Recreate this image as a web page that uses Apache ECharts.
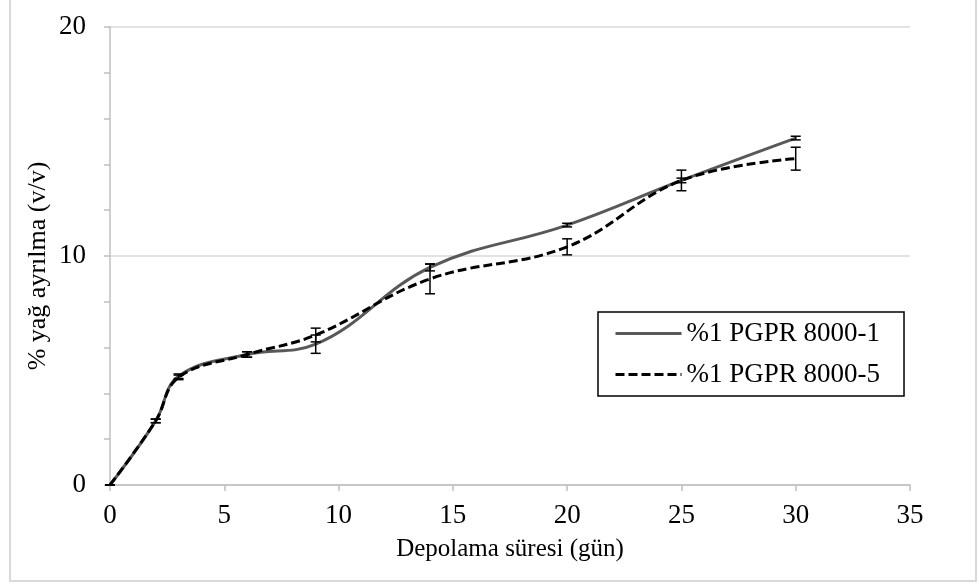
<!DOCTYPE html>
<html>
<head>
<meta charset="utf-8">
<script src="https://cdn.jsdelivr.net/npm/echarts@6/dist/echarts.min.js"></script>
<style>
  html, body { margin: 0; padding: 0; background: #fff; }
  #chart { width: 979px; height: 584px; }
</style>
</head>
<body>
<div id="chart"></div>
<script>
// Depolama süresi (gün)
const gunler = [0, 2, 3, 6, 9, 14, 20, 25, 30];
// %1 PGPR 8000-1
const seri1 = [0, 2.8, 4.75, 5.7, 6.15, 9.5, 11.35, 13.3, 15.15];
const seri1Hata = [0, 0.08, 0.1, 0.12, 0.4, 0.15, 0.08, 0.1, 0.08];
// %1 PGPR 8000-5
const seri2 = [0, 2.8, 4.7, 5.7, 6.55, 9.0, 10.4, 13.3, 14.25];
const seri2Hata = [0, 0.08, 0.1, 0.12, 0.3, 0.65, 0.35, 0.45, 0.5];

const yaziTipi = 'Liberation Serif';

document.addEventListener('DOMContentLoaded', () => {
    var chart = echarts.init(document.getElementById('chart'));

    // hata çubukları için veri: [x, alt, üst]
    function hataVerisi(degerler, hatalar) {
        return gunler.map((g, i) => [g, degerler[i] - hatalar[i], degerler[i] + hatalar[i]]);
    }

    function hataCiz(params, api) {
        const ust = api.coord([api.value(0), api.value(2)]);
        const alt = api.coord([api.value(0), api.value(1)]);
        const stil = { stroke: '#000', lineWidth: 1.5 };
        return {
            type: 'group',
            children: [
                { type: 'line', shape: { x1: ust[0], y1: ust[1], x2: alt[0], y2: alt[1] }, style: stil },
                { type: 'line', shape: { x1: ust[0] - 5, y1: ust[1], x2: ust[0] + 5, y2: ust[1] }, style: stil },
                { type: 'line', shape: { x1: alt[0] - 5, y1: alt[1], x2: alt[0] + 5, y2: alt[1] }, style: stil }
            ]
        };
    }

    const option = {
        animation: false,
        textStyle: { fontFamily: yaziTipi },
        grid: { left: 110, right: 69, top: 27, bottom: 99 },
        xAxis: {
            type: 'value',
            min: 0,
            max: 35,
            interval: 5,
            axisLine: { lineStyle: { color: '#bfbfbf', width: 1.5 } },
            axisTick: { show: true, length: 6, lineStyle: { color: '#bfbfbf', width: 1.5 } },
            splitLine: { show: false },
            axisLabel: { color: '#000', fontFamily: yaziTipi, fontSize: 27, margin: 17 }
        },
        yAxis: {
            type: 'value',
            min: 0,
            max: 20,
            interval: 10,
            axisLine: { show: true, lineStyle: { color: '#bfbfbf', width: 1.5 } },
            axisTick: { show: true, length: 6, lineStyle: { color: '#bfbfbf', width: 1.5 } },
            minorTick: { show: true, splitNumber: 5, length: 6, lineStyle: { color: '#bfbfbf', width: 1.5 } },
            splitLine: { show: true, lineStyle: { color: '#d9d9d9', width: 1.5 } },
            axisLabel: { color: '#000', fontFamily: yaziTipi, fontSize: 27, margin: 24 }
        },
        legend: {
            left: 598,
            top: 312,
            orient: 'vertical',
            itemWidth: 66,
            itemHeight: 14,
            itemGap: 12,
            padding: [7, 24, 7, 16],
            borderColor: '#000',
            borderWidth: 1.5,
            itemStyle: { opacity: 0 },
            lineStyle: { width: 3 },
            data: ['%1 PGPR 8000-1', '%1 PGPR 8000-5'],
            textStyle: { color: '#000', fontFamily: yaziTipi, fontSize: 27, lineHeight: 29 }
        },
        graphic: [
            {
                type: 'rect',
                shape: { x: 10, y: -2, width: 966, height: 583 },
                style: { fill: 'none', stroke: '#d9d9d9', lineWidth: 2 },
                silent: true
            },
            {
                type: 'text',
                x: 510,
                y: 549,
                style: {
                    text: 'Depolama süresi (gün)',
                    font: '25px "' + yaziTipi + '"',
                    fill: '#000',
                    align: 'center',
                    verticalAlign: 'middle'
                }
            },
            {
                type: 'text',
                x: 38,
                y: 266,
                rotation: Math.PI / 2,
                style: {
                    text: '% yağ ayrılma (v/v)',
                    font: '26px "' + yaziTipi + '"',
                    fill: '#000',
                    align: 'center',
                    verticalAlign: 'middle'
                }
            }
        ],
        series: [
            {
                name: '%1 PGPR 8000-1',
                type: 'line',
                smooth: 0.4,
                symbol: 'none',
                data: gunler.map((g, i) => [g, seri1[i]]),
                lineStyle: { color: '#595959', width: 3 },
                itemStyle: { color: '#595959' },
                z: 2
            },
            {
                name: '%1 PGPR 8000-5',
                type: 'line',
                smooth: 0.4,
                symbol: 'none',
                data: gunler.map((g, i) => [g, seri2[i]]),
                lineStyle: { color: '#000', width: 3, type: [9, 4] },
                itemStyle: { color: '#000' },
                z: 3
            },
            {
                type: 'custom',
                renderItem: hataCiz,
                data: hataVerisi(seri1, seri1Hata),
                encode: { x: 0, y: [1, 2] },
                z: 4
            },
            {
                type: 'custom',
                renderItem: hataCiz,
                data: hataVerisi(seri2, seri2Hata),
                encode: { x: 0, y: [1, 2] },
                z: 4
            }
        ]
    };

    chart.setOption(option);
    window.addEventListener('resize', () => chart.resize());
});
</script>
</body>
</html>
